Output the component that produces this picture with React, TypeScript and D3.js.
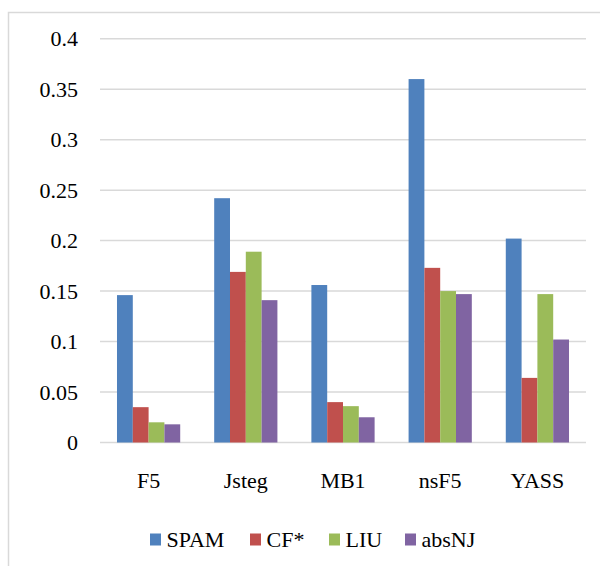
import React from "react";
import * as d3 from "d3";

const categories = ["F5", "Jsteg", "MB1", "nsF5", "YASS"];
const seriesNames = ["SPAM", "CF*", "LIU", "absNJ"];
const spam = [0.146, 0.242, 0.156, 0.36, 0.202];
const cf = [0.035, 0.169, 0.04, 0.173, 0.064];
const liu = [0.02, 0.189, 0.036, 0.15, 0.147];
const absnj = [0.018, 0.141, 0.025, 0.147, 0.102];
const yTicks = [0, 0.05, 0.1, 0.15, 0.2, 0.25, 0.3, 0.35, 0.4];
const colors = ["#4F81BD", "#C0504D", "#9BBB59", "#8064A2"];

const seriesValues = [spam, cf, liu, absnj];
const legendX = [150, 250, 329, 405];

export default function App() {
  const W = 600, H = 566;
  const x0 = d3.scaleBand<string>().domain(categories).range([100, 586]).paddingInner(0).paddingOuter(0);
  const x1 = d3.scaleBand<string>().domain(seriesNames).range([0, x0.bandwidth()]).paddingInner(0).paddingOuter(1.075);
  const y = d3.scaleLinear().domain([0, 0.4]).range([442.5, 38.7]);
  const textStyle: React.CSSProperties = { fontFamily: '"Liberation Serif", "Times New Roman", serif', fontSize: "22px" };

  return (
    <svg width={W} height={H} style={{ position: "absolute", left: 0, top: 0, background: "#fff" }}>
      <rect x={0} y={0} width={W} height={H} fill="#fff" />
      <rect x={8.5} y={12.5} width={W + 10} height={H + 10} fill="none" stroke="#D9D9D9" strokeWidth={1.5} />
      {yTicks.map((t) => (
        <g key={t}>
          <line x1={100} x2={586} y1={y(t)} y2={y(t)} stroke="#D9D9D9" strokeWidth={1.5} />
          <text x={78} y={y(t) + 7.5} textAnchor="end" style={textStyle} fill="#000">
            {String(t)}
          </text>
        </g>
      ))}
      {categories.map((c, i) => (
        <g key={c}>
          {seriesNames.map((s, j) => {
            const v = seriesValues[j][i];
            return (
              <rect
                key={s}
                x={(x0(c) as number) + (x1(s) as number)}
                y={y(v)}
                width={x1.bandwidth()}
                height={y(0) - y(v)}
                fill={colors[j]}
              />
            );
          })}
          <text x={(x0(c) as number) + x0.bandwidth() / 2} y={488} textAnchor="middle" style={textStyle} fill="#000">
            {c}
          </text>
        </g>
      ))}
      {seriesNames.map((s, j) => (
        <g key={s}>
          <rect x={legendX[j]} y={533.5} width={11} height={12} fill={colors[j]} />
          <text x={legendX[j] + 16.5} y={547} style={textStyle} fill="#000">
            {s}
          </text>
        </g>
      ))}
    </svg>
  );
}
